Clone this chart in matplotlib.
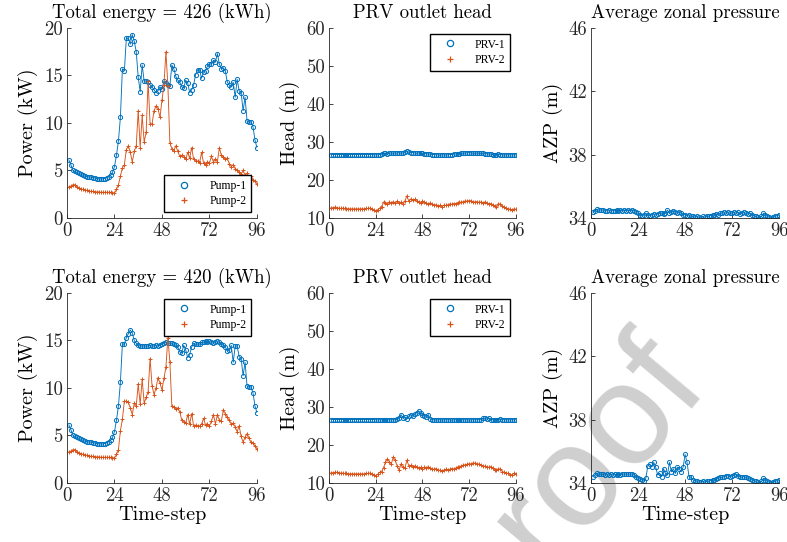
import numpy as np
import matplotlib
matplotlib.use("Agg")
from matplotlib import pyplot as plt
from matplotlib.lines import Line2D

# time steps
t = np.arange(1, 97)

# pump power, case 1 (kW)
pump1_a = [6.1, 5.6, 5.0, 4.9, 4.8, 4.7, 4.6, 4.5, 4.4, 4.35, 4.3, 4.3, 4.25, 4.2, 4.15, 4.1,
           4.1, 4.1, 4.15, 4.25, 4.35, 4.5, 4.8, 5.4, 6.6, 8.1, 10.6, 15.7, 15.5, 18.9, 18.9, 18.3,
           19.3, 18.6, 17.5, 14.8, 13.3, 16.1, 14.4, 14.4, 14.3, 14.0, 13.8, 13.5, 13.2, 13.4, 13.8, 13.6,
           14.4, 14.2, 14.0, 13.9, 16.1, 15.7, 14.9, 14.5, 14.3, 13.8, 13.7, 14.5, 14.2, 13.2, 13.5, 14.0,
           15.1, 15.6, 15.6, 14.7, 15.4, 15.5, 16.0, 16.2, 16.2, 16.6, 16.4, 17.3, 16.2, 15.7, 15.8, 15.5,
           14.3, 14.0, 13.8, 14.3, 12.7, 14.6, 13.4, 13.2, 11.3, 12.7, 10.2, 10.1, 10.1, 9.6, 8.2, 7.4]
pump2_a = [3.3, 3.35, 3.5, 3.5, 3.3, 3.2, 3.1, 3.0, 2.95, 2.9, 2.85, 2.8, 2.8, 2.75, 2.75, 2.75,
           2.7, 2.7, 2.7, 2.7, 2.7, 2.7, 2.65, 2.6, 3.0, 3.5, 4.4, 5.3, 5.6, 7.2, 7.6, 6.9,
           5.9, 7.0, 7.6, 11.3, 7.4, 10.8, 8.0, 9.0, 14.4, 9.9, 9.9, 11.3, 11.8, 11.5, 10.6, 12.4,
           14.0, 17.5, 13.9, 7.9, 7.3, 7.1, 7.6, 7.0, 6.5, 6.6, 6.4, 6.2, 6.9, 6.3, 7.4, 6.2,
           6.0, 6.0, 5.8, 6.9, 5.8, 5.6, 5.9, 5.8, 6.5, 5.9, 6.2, 5.9, 7.4, 6.6, 6.4, 6.2,
           6.3, 5.7, 5.4, 5.6, 5.2, 5.0, 4.8, 4.6, 5.0, 4.5, 4.7, 4.3, 4.4, 4.0, 3.9, 3.6]

# pump power, case 2 (kW)
pump1_b = [6.1, 5.6, 5.0, 4.9, 4.8, 4.7, 4.6, 4.5, 4.4, 4.35, 4.3, 4.3, 4.25, 4.2, 4.15, 4.1,
           4.1, 4.1, 4.15, 4.25, 4.35, 4.5, 4.8, 5.4, 6.6, 8.1, 10.6, 14.6, 14.6, 15.3, 15.7, 16.1,
           15.8, 15.0, 14.7, 14.5, 14.4, 14.4, 14.4, 14.4, 14.4, 14.5, 14.4, 14.4, 14.5, 14.4, 14.5, 14.6,
           14.7, 14.8, 14.7, 14.7, 14.7, 14.6, 14.5, 14.3, 13.8, 13.7, 14.5, 14.0, 13.2, 13.5, 14.3, 14.7,
           14.6, 14.6, 14.6, 14.8, 14.8, 14.9, 14.8, 14.9, 14.8, 14.7, 14.8, 14.9, 14.8, 14.6, 14.5, 14.3,
           13.9, 14.0, 14.5, 12.7, 14.4, 14.4, 13.3, 13.1, 11.3, 12.7, 10.2, 10.1, 10.1, 9.5, 8.1, 7.4]
pump2_b = [3.3, 3.35, 3.5, 3.5, 3.3, 3.2, 3.1, 3.0, 2.95, 2.9, 2.85, 2.8, 2.8, 2.75, 2.75, 2.75,
           2.7, 2.7, 2.7, 2.7, 2.7, 2.7, 2.65, 2.6, 3.0, 3.5, 5.5, 6.7, 8.6, 8.6, 8.5, 7.9,
           7.2, 8.4, 8.1, 10.4, 8.3, 10.9, 8.4, 9.0, 9.6, 13.1, 10.2, 9.3, 10.0, 11.1, 10.5, 9.8,
           11.0, 12.2, 15.3, 12.7, 8.1, 8.0, 7.8, 7.9, 7.5, 6.6, 6.4, 6.3, 7.2, 6.2, 7.3, 6.0,
           6.1, 6.0, 6.0, 6.2, 6.8, 6.1, 6.2, 6.0, 6.5, 7.2, 6.2, 7.2, 6.6, 6.5, 7.7, 7.3,
           6.9, 6.6, 6.2, 6.3, 5.9, 5.4, 6.0, 4.9, 4.3, 4.8, 5.2, 4.7, 4.3, 4.2, 3.9, 3.6]

# PRV outlet head, case 1 (m)
prv1_a = [26.7, 26.7, 26.7, 26.7, 26.7, 26.7, 26.7, 26.7, 26.7, 26.7, 26.7, 26.7, 26.7, 26.7, 26.7, 26.7,
          26.7, 26.7, 26.7, 26.7, 26.7, 26.7, 26.6, 26.6, 26.6, 26.7, 26.8, 27.0, 27.0, 26.9, 27.0, 27.1,
          27.0, 27.1, 27.0, 27.2, 27.0, 27.1, 27.3, 27.5, 27.3, 27.2, 27.2, 27.1, 27.0, 27.1, 27.0, 27.0,
          26.9, 26.9, 26.8, 26.8, 26.7, 26.7, 26.6, 26.6, 26.5, 26.6, 26.6, 26.5, 26.6, 26.7, 26.7, 26.8,
          26.8, 26.9, 26.9, 27.0, 27.0, 27.1, 27.1, 27.2, 27.1, 27.0, 27.0, 27.1, 27.0, 27.0, 27.0, 26.9,
          26.9, 26.8, 26.8, 26.7, 26.6, 26.7, 26.8, 26.7, 26.6, 26.5, 26.6, 26.6, 26.6, 26.6, 26.6, 26.6]
prv2_a = [12.7, 12.7, 12.8, 12.7, 12.6, 12.5, 12.6, 12.5, 12.4, 12.4, 12.4, 12.4, 12.4, 12.4, 12.4, 12.4,
          12.4, 12.4, 12.5, 12.5, 12.6, 12.4, 12.0, 11.9, 12.2, 12.6, 13.0, 14.2, 14.0, 13.6, 14.2, 14.0,
          14.3, 13.9, 14.4, 14.0, 14.1, 13.6, 14.5, 15.8, 14.4, 15.0, 14.8, 14.9, 14.5, 14.3, 14.0, 14.4,
          14.1, 13.9, 13.7, 14.0, 13.6, 13.4, 13.5, 13.2, 13.3, 13.0, 13.4, 13.3, 13.5, 13.7, 13.6, 13.8,
          13.8, 14.0, 14.2, 14.1, 14.3, 14.5, 14.4, 14.6, 14.5, 14.3, 14.2, 14.3, 14.1, 14.2, 14.0, 14.2,
          14.0, 13.7, 13.8, 13.3, 13.1, 13.0, 13.8, 13.6, 13.2, 12.8, 12.6, 12.4, 12.3, 12.1, 12.4, 12.3]

# PRV outlet head, case 2 (m)
prv1_b = [26.7, 26.7, 26.7, 26.7, 26.7, 26.7, 26.7, 26.7, 26.7, 26.7, 26.7, 26.7, 26.7, 26.7, 26.7, 26.7,
          26.7, 26.7, 26.7, 26.7, 26.7, 26.7, 26.7, 26.6, 26.6, 26.6, 26.6, 26.7, 26.6, 26.6, 26.6, 26.6,
          26.6, 26.6, 26.8, 27.0, 28.0, 27.0, 27.3, 26.9, 27.5, 28.0, 27.6, 28.2, 28.5, 29.0, 28.3, 28.0,
          27.5, 27.3, 28.0, 26.8, 26.6, 26.6, 26.5, 26.6, 26.6, 26.5, 26.6, 26.6, 26.6, 26.6, 26.5, 26.6,
          26.6, 26.6, 26.5, 26.6, 26.6, 26.6, 26.6, 26.5, 26.6, 26.6, 26.6, 26.6, 26.7, 26.6, 27.0, 27.0,
          26.8, 27.0, 26.7, 26.6, 26.7, 26.6, 26.7, 26.8, 26.7, 26.6, 26.6, 26.6, 26.6, 26.6, 26.6, 26.6]
prv2_b = [12.7, 12.7, 12.8, 12.8, 12.7, 12.6, 12.6, 12.5, 12.5, 12.4, 12.4, 12.4, 12.4, 12.4, 12.4, 12.4,
          12.4, 12.4, 12.5, 12.5, 12.6, 12.3, 12.0, 11.9, 12.3, 12.8, 13.0, 14.0, 15.5, 16.3, 15.6, 15.0,
          16.8, 16.0, 14.5, 13.4, 15.0, 14.2, 14.0, 16.0, 14.5, 14.6, 14.3, 14.5, 14.2, 14.0, 14.1, 13.8,
          14.2, 14.0, 14.3, 13.9, 13.7, 13.6, 13.8, 13.5, 13.3, 13.2, 13.4, 13.6, 13.5, 13.6, 13.8, 13.7,
          13.9, 14.2, 14.3, 14.5, 14.7, 14.8, 14.9, 15.1, 15.0, 15.3, 15.2, 14.9, 15.0, 14.7, 14.5, 14.4,
          14.3, 14.1, 14.3, 13.9, 13.5, 13.4, 13.8, 13.6, 13.0, 12.8, 12.6, 12.5, 12.2, 12.2, 12.5, 12.3]

# average zonal pressure (m)
azp_a = [34.35, 34.45, 34.55, 34.5, 34.5, 34.5, 34.45, 34.45, 34.5, 34.45, 34.45, 34.45, 34.5, 34.45, 34.5, 34.45,
         34.5, 34.45, 34.5, 34.45, 34.5, 34.45, 34.35, 34.3, 34.2, 34.15, 34.2, 34.3, 34.2, 34.15, 34.2, 34.25,
         34.2, 34.25, 34.3, 34.3, 34.25, 34.3, 34.5, 34.3, 34.35, 34.45, 34.35, 34.3, 34.4, 34.3, 34.2, 34.2,
         34.15, 34.2, 34.1, 34.1, 34.05, 34.1, 34.05, 34.0, 34.1, 34.05, 34.1, 34.1, 34.15, 34.2, 34.2, 34.25,
         34.2, 34.3, 34.3, 34.35, 34.3, 34.35, 34.3, 34.3, 34.35, 34.3, 34.35, 34.25, 34.3, 34.35, 34.3, 34.25,
         34.3, 34.2, 34.15, 34.1, 34.05, 34.0, 34.1, 34.3, 34.2, 34.1, 34.05, 34.0, 34.05, 34.1, 34.15, 34.2]
azp_b = [34.4, 34.5, 34.6, 34.55, 34.55, 34.55, 34.5, 34.55, 34.5, 34.55, 34.5, 34.55, 34.5, 34.55, 34.5, 34.55,
         34.55, 34.55, 34.55, 34.55, 34.55, 34.5, 34.4, 34.3, 34.25, 34.2, 34.1, 34.3, 35.1, 35.2, 35.0, 35.3,
         35.0, 34.5, 34.6, 34.4, 34.9, 34.6, 34.5, 35.3, 34.7, 34.9, 34.6, 35.0, 34.9, 34.7, 35.0, 35.8,
         35.3, 34.4, 34.35, 34.2, 34.15, 34.1, 34.05, 34.05, 34.1, 34.05, 34.1, 34.1, 34.15, 34.2, 34.2, 34.25,
         34.3, 34.35, 34.35, 34.4, 34.45, 34.45, 34.4, 34.45, 34.5, 34.55, 34.45, 34.4, 34.35, 34.4, 34.35, 34.3,
         34.25, 34.2, 34.15, 34.1, 34.05, 34.0, 34.1, 34.3, 34.2, 34.1, 34.05, 34.0, 34.05, 34.1, 34.15, 34.2]

energy = [426, 420]
xticks = [0, 24, 48, 72, 96]

blue = "#0072BD"
red = "#D95319"
tick_col = "#262626"

plt.rcParams['font.family'] = 'cmr10'
plt.rcParams['axes.unicode_minus'] = False
plt.rcParams['mathtext.fontset'] = 'cm'

fig = plt.figure(figsize=(7.87, 5.42), dpi=100)

lefts = [0.0851, 0.418, 0.751]
widths = [0.2414, 0.2376, 0.239]
bottoms = [0.5978, 0.1089]
h = 0.3506

def style(ax, ylim, yticks, ylabel, bottom_row):
    ax.patch.set_alpha(0)
    ax.set_xlim(0, 96)
    ax.set_ylim(*ylim)
    ax.set_xticks(xticks)
    ax.set_yticks(yticks)
    for s in ['top', 'right']:
        ax.spines[s].set_visible(False)
    for s in ['left', 'bottom']:
        ax.spines[s].set_color(tick_col)
        ax.spines[s].set_linewidth(0.6)
    ax.tick_params(direction='in', length=3, width=0.6, colors=tick_col, labelsize=13.5, pad=3)
    ax.set_ylabel(ylabel, fontsize=14.5, labelpad=4)
    if bottom_row:
        ax.set_xlabel('Time-step', fontsize=14.5, labelpad=1)

def leg(ax, labels, loc):
    handles = [Line2D([], [], linestyle='none', marker='o', color=blue, markerfacecolor='none',
                      markersize=4.5, markeredgewidth=0.9),
               Line2D([], [], linestyle='none', marker='+', color=red,
                      markersize=5, markeredgewidth=0.9)]
    ax.legend(handles, labels, loc=loc, prop={'family': 'Liberation Serif', 'size': 8.5},
              frameon=True, fancybox=False, edgecolor='black', framealpha=1,
              handlelength=2.6, borderpad=0.4, labelspacing=0.3)

mk = dict(markersize=3.0, linewidth=0.65, markeredgewidth=0.7)

cases = [(pump1_a, pump2_a, prv1_a, prv2_a, azp_a), (pump1_b, pump2_b, prv1_b, prv2_b, azp_b)]
for r, (p1, p2, v1, v2, z) in enumerate(cases):
    b = bottoms[r]
    # power
    ax = fig.add_axes([lefts[0], b, widths[0], h])
    ax.plot(t, p1, '-o', color=blue, markerfacecolor='none', **mk)
    ax.plot(t, p2, '-+', color=red, **mk)
    style(ax, (0, 20), [0, 5, 10, 15, 20], 'Power (kW)', r == 1)
    ax.set_title('Total energy = %d (kWh)' % energy[r], fontsize=13.5, pad=7)
    leg(ax, ['Pump-1', 'Pump-2'], 'lower right' if r == 0 else 'upper right')

    # PRV head
    ax = fig.add_axes([lefts[1], b, widths[1], h])
    ax.plot(t, v1, '-o', color=blue, markerfacecolor='none', **mk)
    ax.plot(t, v2, '-+', color=red, **mk)
    style(ax, (10, 60), [10, 20, 30, 40, 50, 60], 'Head (m)', r == 1)
    ax.set_title('PRV outlet head', fontsize=13.5, pad=7)
    leg(ax, ['PRV-1', 'PRV-2'], 'upper right')

    # zonal pressure
    ax = fig.add_axes([lefts[2], b, widths[2], h])
    ax.plot(t, z, '-o', color=blue, markerfacecolor='none', **mk)
    style(ax, (34, 46), [34, 38, 42, 46], 'AZP (m)', r == 1)
    ax.set_title('Average zonal pressure', fontsize=13.5, pad=7)

# watermark, under the axes
fig.text(0.903, 0.285, 'Journal Pre-proof', rotation=50, rotation_mode='anchor',
         ha='right', va='baseline', fontsize=104, family='Liberation Sans',
         color='#cfcfcf', zorder=-1)

fig.savefig('out.png', dpi=100)
